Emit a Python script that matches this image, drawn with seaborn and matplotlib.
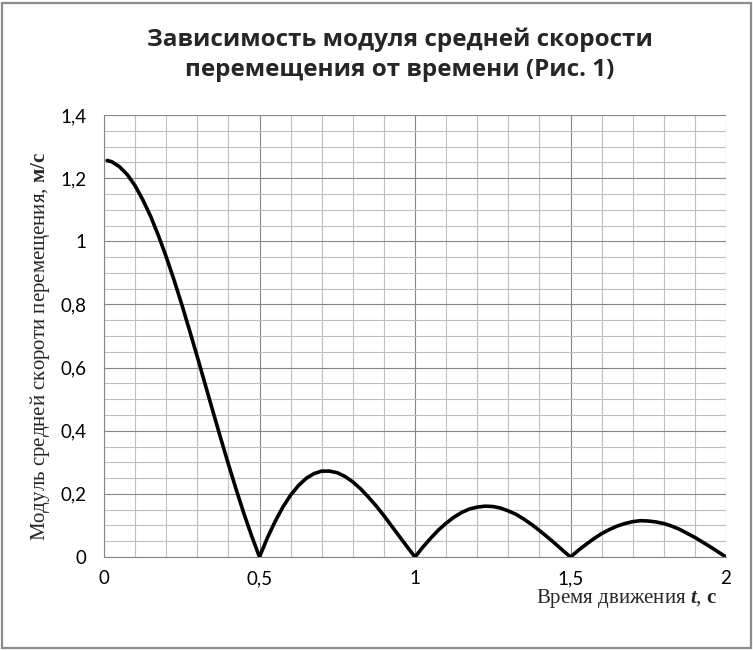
import numpy as np
import pandas as pd
import seaborn as sns
import matplotlib.pyplot as plt
from matplotlib.patches import Rectangle
from matplotlib.ticker import MultipleLocator

# время, с
t_values = [0.01, 0.025, 0.05, 0.075, 0.1, 0.125, 0.15, 0.175, 0.2, 0.225,
            0.25, 0.275, 0.3, 0.325, 0.35, 0.375, 0.4, 0.425, 0.45, 0.475,
            0.5, 0.525, 0.55, 0.575, 0.6, 0.625, 0.65, 0.675, 0.7, 0.725,
            0.75, 0.775, 0.8, 0.825, 0.85, 0.875, 0.9, 0.925, 0.95, 0.975,
            1.0, 1.025, 1.05, 1.075, 1.1, 1.125, 1.15, 1.175, 1.2, 1.225,
            1.25, 1.275, 1.3, 1.325, 1.35, 1.375, 1.4, 1.425, 1.45, 1.475,
            1.5, 1.525, 1.55, 1.575, 1.6, 1.625, 1.65, 1.675, 1.7, 1.725,
            1.75, 1.775, 1.8, 1.825, 1.85, 1.875, 1.9, 1.925, 1.95, 1.975,
            2.0]
# модуль средней скорости, м/с
v_values = [1.256, 1.252, 1.236, 1.211, 1.176, 1.131, 1.079, 1.018, 0.951, 0.878,
            0.800, 0.718, 0.634, 0.548, 0.462, 0.377, 0.294, 0.214, 0.137, 0.066,
            0.000, 0.060, 0.112, 0.158, 0.196, 0.226, 0.249, 0.264, 0.272, 0.272,
            0.267, 0.255, 0.238, 0.216, 0.190, 0.162, 0.131, 0.098, 0.065, 0.032,
            0.000, 0.031, 0.059, 0.085, 0.107, 0.126, 0.141, 0.152, 0.158, 0.161,
            0.160, 0.155, 0.146, 0.135, 0.120, 0.103, 0.084, 0.064, 0.043, 0.021,
            0.000, 0.021, 0.040, 0.058, 0.074, 0.087, 0.098, 0.106, 0.112, 0.115,
            0.114, 0.111, 0.106, 0.098, 0.088, 0.075, 0.062, 0.047, 0.032, 0.016,
            0.000]

x_ticks = [0, 0.5, 1, 1.5, 2]
x_tick_labels = ['0', '0,5', '1', '1,5', '2']
y_ticks = [0, 0.2, 0.4, 0.6, 0.8, 1.0, 1.2, 1.4]
y_tick_labels = ['0', '0,2', '0,4', '0,6', '0,8', '1', '1,2', '1,4']

df = pd.DataFrame({'t': t_values, 'v': v_values})

sns.set_style('white')
plt.rcParams['font.family'] = ['Lato', 'DejaVu Sans']
plt.rcParams['mathtext.fontset'] = 'custom'
plt.rcParams['mathtext.rm'] = 'Liberation Serif'
plt.rcParams['mathtext.it'] = 'Liberation Serif:italic:bold'
plt.rcParams['mathtext.bf'] = 'Liberation Serif:bold'

fig = plt.figure(figsize=(7.53, 6.51), dpi=100)
ax = fig.add_axes([104 / 753, 1 - 557 / 651, 622 / 753, 442 / 651])

sns.lineplot(data=df, x='t', y='v', color='black', linewidth=2.6, ax=ax)

ax.set_xlim(0, 2)
ax.set_ylim(0, 1.4)
ax.set_xticks(x_ticks)
ax.set_xticklabels(x_tick_labels)
ax.set_yticks(y_ticks)
ax.set_yticklabels(y_tick_labels)
ax.xaxis.set_minor_locator(MultipleLocator(0.1))
ax.yaxis.set_minor_locator(MultipleLocator(0.05))
ax.grid(which='major', color='#868686', linewidth=0.8)
ax.grid(which='minor', color='#bfbfbf', linewidth=0.8)
ax.set_axisbelow(True)
ax.tick_params(which='major', direction='out', length=4.5, width=0.8,
               color='#868686', labelsize=13.5, labelcolor='black')
ax.tick_params(axis='y', pad=8)
ax.tick_params(axis='x', pad=5)
ax.tick_params(which='minor', length=0)
for side in ['top', 'right']:
    ax.spines[side].set_visible(False)
for side in ['left', 'bottom']:
    ax.spines[side].set_color('#868686')
    ax.spines[side].set_linewidth(0.8)
ax.set_xlabel('')
ax.set_ylabel('')

fig.text(0.531, 0.916, 'Зависимость модуля средней скорости\nперемещения от времени (Рис. 1)',
         ha='center', va='center', fontsize=17.5, fontweight='bold', linespacing=1.3,
         family=['Open Sans', 'DejaVu Sans'])

fig.text(0.053, 0.468, 'Модуль средней скороти перемещения, $\\mathbf{м/с}$',
         rotation=90, ha='center', va='center', fontsize=15,
         family='Liberation Serif')
fig.text(0.832, 0.081, 'Время движения $\\mathit{t}$, $\\mathbf{с}$',
         ha='center', va='center', fontsize=15, family='Liberation Serif')

fig.patches.append(Rectangle((0.003, 0.004), 0.994, 0.992, transform=fig.transFigure,
                             fill=False, edgecolor='#8c8c8c', linewidth=1.6))

fig.savefig('out.png', dpi=100)
